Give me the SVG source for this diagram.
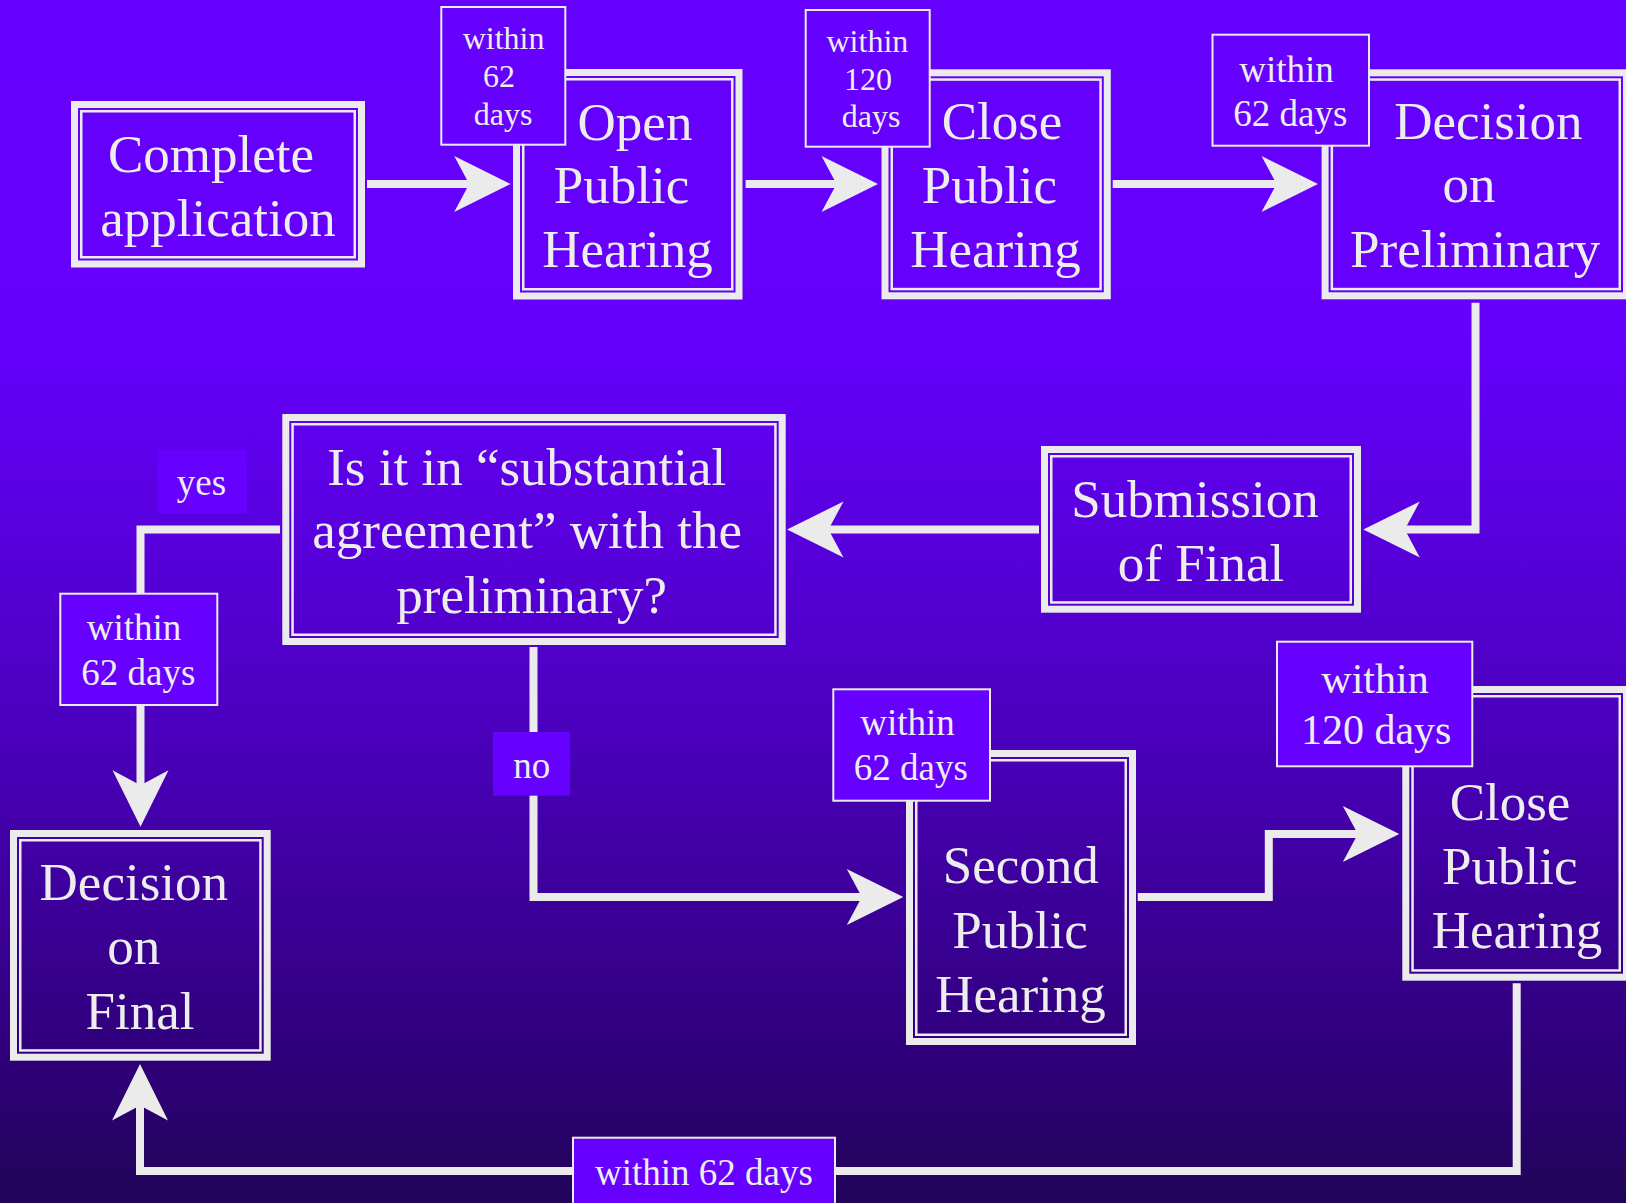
<svg xmlns="http://www.w3.org/2000/svg" width="1626" height="1203" viewBox="0 0 1626 1203">
<defs>
<linearGradient id="bg" x1="0" y1="0" x2="0" y2="1">
<stop offset="0" stop-color="#6600FF"/>
<stop offset="0.3" stop-color="#6400FA"/>
<stop offset="0.62" stop-color="#4A00BA"/>
<stop offset="0.9" stop-color="#2D0075"/>
<stop offset="1" stop-color="#200558"/>
</linearGradient>
<marker id="ah" viewBox="-60 -30 62 60" refX="-38" refY="0" markerWidth="62" markerHeight="60" markerUnits="userSpaceOnUse" orient="auto">
<path d="M0,0 L-56.5,-28 L-41.5,0 L-56.5,28 Z" fill="#EBEBEB"/>
</marker>
<style>
.ob{fill:none;stroke:#EBEBEB;stroke-width:7}
.ib{fill:none;stroke:#EBEBEB;stroke-width:2.5}
.lb{fill:#6600FF;stroke:#EBEBEB;stroke-width:2}
.tag{fill:#6600FF;stroke:none}
.t{font-family:"Liberation Serif","Times New Roman",serif;fill:#EDEDED;text-anchor:middle}
.big{font-size:53px}
.s32{font-size:32px}
.s37{font-size:37px}
.s42{font-size:42px}
.c{fill:none;stroke:#EBEBEB;stroke-width:8;stroke-linejoin:miter;stroke-linecap:butt;marker-end:url(#ah)}
</style>
</defs>
<rect x="0" y="0" width="1626" height="1203" fill="url(#bg)"/>

<g id="connectors">
<path class="c" d="M367,184 H472.7"/>
<path class="c" d="M745.6,184 H840"/>
<path class="c" d="M1112.7,184 H1280"/>
<path class="c" d="M1475.5,302.8 V529.5 H1401.3"/>
<path class="c" d="M1039,529.5 H825"/>
<path class="c" d="M280,529.5 H140.5 V788.7"/>
<path class="c" d="M533.5,647 V897 H865.3"/>
<path class="c" d="M1137.7,897 H1268.8 V834 H1361.3"/>
<path class="c" d="M1516.7,983.3 V1171 H140 V1102"/>
</g>

<g id="n-complete">
<rect class="ob" x="74.5" y="104.5" width="287" height="159.5"/>
<rect class="ib" x="81.25" y="111.25" width="273.5" height="146"/>
<text class="t big" x="211" y="172">Complete</text>
<text class="t big" x="218" y="235.5">application</text>
</g>

<g id="n-open">
<rect class="ob" x="516.5" y="72.5" width="222.5" height="223.5"/>
<rect class="ib" x="523.25" y="79.25" width="209" height="210"/>
<text class="t big" x="635" y="139.5">Open</text>
<text class="t big" x="621.5" y="203.3">Public</text>
<text class="t big" x="627.5" y="266.7">Hearing</text>
</g>

<g id="n-close1">
<rect class="ob" x="885" y="72.8" width="222.3" height="223"/>
<rect class="ib" x="891.75" y="79.55" width="208.8" height="209.5"/>
<text class="t big" x="1002" y="139">Close</text>
<text class="t big" x="989.4" y="203.3">Public</text>
<text class="t big" x="995.5" y="266.7">Hearing</text>
</g>

<g id="n-prelim">
<rect class="ob" x="1325.1" y="72.8" width="301.4" height="223"/>
<rect class="ib" x="1331.85" y="79.55" width="287.9" height="209.5"/>
<text class="t big" x="1488.4" y="139">Decision</text>
<text class="t big" x="1469" y="202.3">on</text>
<text class="t big" x="1475.2" y="266.7">Preliminary</text>
</g>

<g id="n-submission">
<rect class="ob" x="1044.5" y="449.5" width="313" height="159.7"/>
<rect class="ib" x="1051.25" y="456.25" width="299.5" height="146.2"/>
<text class="t big" x="1195" y="517.3">Submission</text>
<text class="t big" x="1201" y="580.7">of Final</text>
</g>

<g id="n-question">
<rect class="ob" x="285.8" y="417.5" width="496.4" height="224"/>
<rect class="ib" x="292.55" y="424.25" width="482.9" height="210.5"/>
<text class="t big" x="526.7" y="485">Is it in “substantial</text>
<text class="t big" x="527.2" y="548.3">agreement” with the</text>
<text class="t big" x="531.7" y="613.3">preliminary?</text>
</g>

<g id="n-final">
<rect class="ob" x="13.5" y="833.5" width="253.7" height="223.7"/>
<rect class="ib" x="20.25" y="840.25" width="240.2" height="210.2"/>
<text class="t big" x="133.8" y="900">Decision</text>
<text class="t big" x="133.7" y="964.3">on</text>
<text class="t big" x="140" y="1029.3">Final</text>
</g>

<g id="n-second">
<rect class="ob" x="909.5" y="753.5" width="223" height="288"/>
<rect class="ib" x="916.25" y="760.25" width="209.5" height="274.5"/>
<text class="t big" x="1020.8" y="883.3">Second</text>
<text class="t big" x="1020" y="947.7">Public</text>
<text class="t big" x="1020.5" y="1011.7">Hearing</text>
</g>

<g id="n-close2">
<rect class="ob" x="1405.8" y="689.5" width="220.7" height="287.7"/>
<rect class="ib" x="1412.55" y="696.25" width="207.2" height="274.2"/>
<text class="t big" x="1510" y="820">Close</text>
<text class="t big" x="1509.7" y="884.3">Public</text>
<text class="t big" x="1517" y="948.3">Hearing</text>
</g>

<g id="l-open">
<rect class="lb" x="441.3" y="7" width="124" height="137.7"/>
<text class="t s32" x="503.6" y="49">within</text>
<text class="t s32" x="499" y="87.3">62</text>
<text class="t s32" x="503" y="125">days</text>
</g>

<g id="l-close1">
<rect class="lb" x="805.7" y="10" width="124" height="136.7"/>
<text class="t s32" x="867.4" y="51.7">within</text>
<text class="t s32" x="868" y="90">120</text>
<text class="t s32" x="871" y="126.7">days</text>
</g>

<g id="l-prelim">
<rect class="lb" x="1212.5" y="34.7" width="156.5" height="111"/>
<text class="t s37" x="1286.6" y="81.7">within</text>
<text class="t s37" x="1290.3" y="126">62 days</text>
</g>

<g id="l-yes">
<rect class="tag" x="158" y="450" width="89" height="63"/>
<text class="t s37" x="201.5" y="495">yes</text>
</g>

<g id="l-final">
<rect class="lb" x="60.3" y="593.7" width="157" height="111.3"/>
<text class="t s37" x="134" y="640">within</text>
<text class="t s37" x="138.3" y="685">62 days</text>
</g>

<g id="l-no">
<rect class="tag" x="493" y="732" width="77" height="63.7"/>
<text class="t s37" x="531.7" y="777.7">no</text>
</g>

<g id="l-second">
<rect class="lb" x="833.3" y="689.3" width="156.7" height="111.4"/>
<text class="t s37" x="907.5" y="735">within</text>
<text class="t s37" x="910.8" y="780">62 days</text>
</g>

<g id="l-close2">
<rect class="lb" x="1277" y="641.7" width="195.3" height="124.6"/>
<text class="t s42" x="1375" y="693.3">within</text>
<text class="t s42" x="1376.2" y="744.3">120 days</text>
</g>

<g id="l-bottom">
<rect class="lb" x="573" y="1137.7" width="262" height="80"/>
<text class="t s37" x="704" y="1185">within 62 days</text>
</g>
</svg>
